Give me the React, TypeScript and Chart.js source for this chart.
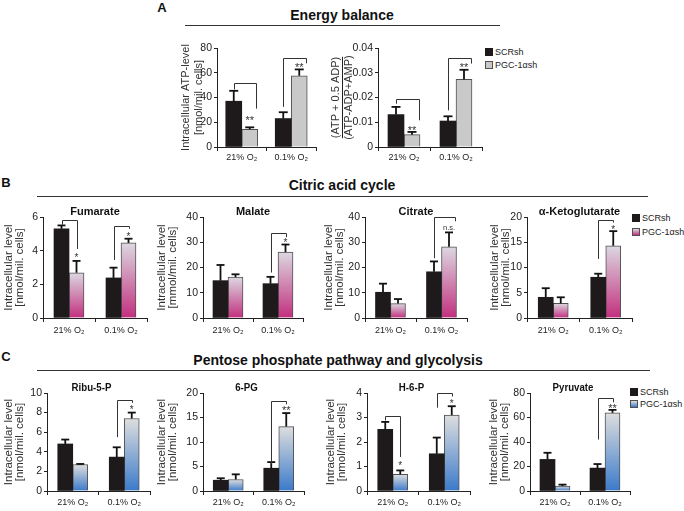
import React, { useEffect, useRef } from 'react';
import { Chart, registerables } from 'chart.js';

Chart.register(...registerables);

const FONT = "'Liberation Sans', Arial, Helvetica, sans-serif";
Chart.defaults.font.family = FONT;
Chart.defaults.color = '#222';

// ---------------- data ----------------
const categories = ['21% O\u2082', '0.1% O\u2082'];
const seriesNames = ['SCRsh', 'PGC-1\u03b1sh'];

// A: Energy balance
const atpSCR = [37, 23];
const atpSCRErr = [8.4, 5.1];
const atpPGC = [14.3, 57.6];
const atpPGCErr = [1.6, 5.1];
// [group, bracket top, left leg end, right leg end, mark position, mark]
const atpBrackets = [[0, 51.4, 46.5, 31, 24, '**'], [1, 72.2, 32.4, 67.6, 66.8, '**']];

const ratioSCR = [0.0131, 0.0105];
const ratioSCRErr = [0.0031, 0.0019];
const ratioPGC = [0.005, 0.0273];
const ratioPGCErr = [0.0011, 0.0039];
const ratioBrackets = [[0, 0.0195, 0.0175, 0.0108, 0.0077, '**'], [1, 0.036, 0.0148, 0.0337, 0.0334, '**']];

// B: Citric acid cycle
const fumSCR = [5.3, 2.38];
const fumSCRErr = [0.2, 0.61];
const fumPGC = [2.69, 4.46];
const fumPGCErr = [0.7, 0.25];
const fumBrackets = [[0, 5.8, 5.55, 4.1, 3.7, '*'], [1, 5.45, 3.45, 5.3, 4.98, '*']];

const malSCR = [14.8, 13.6];
const malSCRErr = [6.2, 2.7];
const malPGC = [16.2, 26.1];
const malPGCErr = [1.1, 3.0];
const malBrackets = [[1, 33.6, 18, 32, 30.8, '*']];

const citSCR = [10.2, 18.3];
const citSCRErr = [3.4, 4.1];
const citPGC = [5.7, 28.2];
const citPGCErr = [1.8, 5.7];
const citBrackets = [[1, 40, 23.7, 38.3, 35.8, 'n.s.']];

const akgSCR = [4.1, 8.07];
const akgSCRErr = [1.8, 0.7];
const akgPGC = [2.9, 14.3];
const akgPGCErr = [1.2, 2.9];
const akgBrackets = [[1, 19.5, 11.7, 18.9, 18.0, '*']];

// C: Pentose phosphate pathway and glycolysis
const ribSCR = [4.8, 3.46];
const ribSCRErr = [0.45, 1.0];
const ribPGC = [2.7, 7.4];
const ribPGCErr = [0.06, 0.6];
const ribBrackets = [[1, 9.3, 5.5, 9.0, 8.5, '*']];

const pgSCR = [2.2, 4.65];
const pgSCRErr = [0.4, 1.25];
const pgPGC = [2.35, 13.15];
const pgPGCErr = [1.05, 2.75];
const pgBrackets = [[1, 18.35, 5.5, 17.7, 17.0, '**']];

const h6pSCR = [2.52, 1.52];
const h6pSCRErr = [0.3, 0.66];
const h6pPGC = [0.68, 3.1];
const h6pPGCErr = [0.16, 0.36];
const h6pBrackets = [[0, 3.05, 2.88, 1.39, 1.12, '*'], [1, 4.0, 3.4, 3.86, 3.65, '*']];

const pyrSCR = [25.8, 18.7];
const pyrSCRErr = [5.4, 3.3];
const pyrPGC = [4.1, 63.8];
const pyrPGCErr = [1.1, 2.4];
const pyrBrackets = [[1, 75.7, 42, 72.4, 69.5, '**']];

// ---------------- styling / layout ----------------
const SCR_COLOR = '#1e1a1b';
const PAD_TOP = 22;
const PAD_RIGHT = 4;
const X_H = 20;
const yTitleBC = ['Intracellular level', '[nmol/mil. cells]'];

const FILLS: any = {
  gray: null,
  pink: ['#dcd8e1', '#c22f7e'],
  blue: ['#dedede', '#3a7aca'],
};

const specs: any[] = [
  { area: [217, 48, 316, 147], yMax: 80, yStep: 20, yTitle: ['Intracellular ATP-level', '[nmol/mil. cells]'], titleX: 185, lh: 13, ts: 11,
    scr: atpSCR, scrErr: atpSCRErr, pgc: atpPGC, pgcErr: atpPGCErr, brackets: atpBrackets, fill: 'gray', barW: 16, cap: 9, edge: true, xPad: 1, starSize: 11 },
  { area: [378, 48, 482, 147], yMax: 0.04, yStep: 0.01, yTitle: ['(ATP + 0.5 ADP)', '(ATP-ADP+AMP)'], titleX: 335, lh: 13, ts: 11, fraction: true,
    scr: ratioSCR, scrErr: ratioSCRErr, pgc: ratioPGC, pgcErr: ratioPGCErr, brackets: ratioBrackets, fill: 'gray', barW: 16, cap: 9, edge: true, xPad: 1, starSize: 11 },

  { title: 'Fumarate', area: [43, 217, 147, 318], yMax: 6, yStep: 2, yTitle: yTitleBC, titleX: 8.5, lh: 11, ts: 11.5,
    scr: fumSCR, scrErr: fumSCRErr, pgc: fumPGC, pgcErr: fumPGCErr, brackets: fumBrackets, fill: 'pink', barW: 15, cap: 8, xPad: 3, starSize: 10 },
  { title: 'Malate', area: [203, 217, 303, 318], yMax: 40, yStep: 10, yTitle: ['Intracellular level', '[mmol/mil. cells]'], titleX: 161, lh: 11, ts: 11.5,
    scr: malSCR, scrErr: malSCRErr, pgc: malPGC, pgcErr: malPGCErr, brackets: malBrackets, fill: 'pink', barW: 15, cap: 8, xPad: 3, starSize: 10 },
  { title: 'Citrate', area: [365, 217, 467, 318], yMax: 40, yStep: 10, yTitle: yTitleBC, titleX: 328, lh: 11, ts: 11.5,
    scr: citSCR, scrErr: citSCRErr, pgc: citPGC, pgcErr: citPGCErr, brackets: citBrackets, fill: 'pink', barW: 15, cap: 8, edge: true, xPad: 3, starSize: 10 },
  { title: '\u03b1-Ketoglutarate', area: [527, 217, 632, 318], yMax: 20, yStep: 5, yTitle: yTitleBC, titleX: 494, lh: 11, ts: 11.5,
    scr: akgSCR, scrErr: akgSCRErr, pgc: akgPGC, pgcErr: akgPGCErr, brackets: akgBrackets, fill: 'pink', barW: 15, cap: 8, xPad: 3, starSize: 10 },

  { title: 'Ribu-5-P', area: [47, 393, 150, 491], yMax: 10, yStep: 2, yTitle: yTitleBC, titleX: 8.5, lh: 11, ts: 11.5, titleDx: -7, titleSx: 0.88,
    scr: ribSCR, scrErr: ribSCRErr, pgc: ribPGC, pgcErr: ribPGCErr, brackets: ribBrackets, fill: 'blue', barW: 15, cap: 8, xPad: 2, starSize: 10 },
  { title: '6-PG', area: [203, 393, 304, 491], yMax: 20, yStep: 5, yTitle: yTitleBC, titleX: 161.5, lh: 11, ts: 11.5, titleDx: -7, titleSx: 0.88,
    scr: pgSCR, scrErr: pgSCRErr, pgc: pgPGC, pgcErr: pgPGCErr, brackets: pgBrackets, fill: 'blue', barW: 15, cap: 8, xPad: 2, starSize: 11 },
  { title: 'H-6-P', area: [367, 393, 470, 491], yMax: 4, yStep: 1, yTitle: yTitleBC, titleX: 330, lh: 11, ts: 11.5, titleDx: -7, titleSx: 0.88,
    scr: h6pSCR, scrErr: h6pSCRErr, pgc: h6pPGC, pgcErr: h6pPGCErr, brackets: h6pBrackets, fill: 'blue', barW: 15, cap: 8, xPad: 2, starSize: 10 },
  { title: 'Pyruvate', area: [530, 393, 630, 491], yMax: 80, yStep: 20, yTitle: yTitleBC, titleX: 493, lh: 11, ts: 11.5, titleDx: -7, titleSx: 0.88,
    scr: pyrSCR, scrErr: pyrSCRErr, pgc: pyrPGC, pgcErr: pyrPGCErr, brackets: pyrBrackets, fill: 'blue', barW: 15, cap: 8, xPad: 2, starSize: 11 },
];

function gradientFill(stops: string[]) {
  return (c: any) => {
    const chart = c.chart;
    const y = chart.scales && chart.scales.y;
    if (!y || !c.parsed || !chart.chartArea) return stops[1];
    const top = y.getPixelForValue(c.parsed.y);
    const base = y.getPixelForValue(0);
    if (!isFinite(top) || !isFinite(base) || top === base) return stops[1];
    const g = chart.ctx.createLinearGradient(0, top, 0, base);
    g.addColorStop(0, stops[0]);
    g.addColorStop(1, stops[1]);
    return g;
  };
}

const decorPlugin = {
  id: 'decor',
  afterDatasetsDraw(chart: any, _args: any, o: any) {
    const { ctx, chartArea } = chart;
    const y = chart.scales.y;
    const m0 = chart.getDatasetMeta(0);
    const m1 = chart.getDatasetMeta(1);
    ctx.save();
    // error bars
    chart.data.datasets.forEach((ds: any, di: number) => {
      const meta = chart.getDatasetMeta(di);
      meta.data.forEach((bar: any, i: number) => {
        const v = ds.data[i];
        const e = ds.errors[i];
        const x = bar.x;
        const y0 = y.getPixelForValue(v);
        const y1 = y.getPixelForValue(v + e);
        ctx.strokeStyle = '#111';
        ctx.lineWidth = 1.8;
        ctx.lineCap = 'butt';
        ctx.beginPath();
        ctx.moveTo(x, y0);
        ctx.lineTo(x, y1);
        ctx.stroke();
        ctx.beginPath();
        ctx.moveTo(x - o.cap / 2, y1);
        ctx.lineTo(x + o.cap / 2, y1);
        ctx.stroke();
      });
    });
    // significance brackets
    ctx.lineWidth = 1;
    ctx.strokeStyle = '#333';
    (o.brackets || []).forEach((bk: any[]) => {
      const [g, top, le, re, ly, label] = bk;
      const b0 = m0.data[g];
      const b1 = m1.data[g];
      const xl = Math.round(b0.x) + 0.5;
      const xr = Math.round(o.edge ? b1.x + b1.width / 2 - 1.5 : b1.x) + 0.5;
      const yt = Math.round(y.getPixelForValue(top)) + 0.5;
      ctx.beginPath();
      ctx.moveTo(xl, y.getPixelForValue(le));
      ctx.lineTo(xl, yt);
      ctx.lineTo(xr, yt);
      ctx.lineTo(xr, y.getPixelForValue(re));
      ctx.stroke();
      const star = String(label).indexOf('*') >= 0;
      const fs = star ? o.starSize : 7.5;
      ctx.fillStyle = '#333';
      ctx.font = `${fs}px ${FONT}`;
      ctx.textAlign = 'center';
      ctx.textBaseline = 'alphabetic';
      ctx.fillText(label, b1.x, y.getPixelForValue(ly) + (star ? 0.57 : 0.26) * fs);
    });
    // chart title
    if (o.title) {
      ctx.fillStyle = '#111';
      ctx.font = `bold 11px ${FONT}`;
      ctx.textAlign = 'center';
      ctx.textBaseline = 'middle';
      ctx.translate((chartArea.left + chartArea.right) / 2 + (o.titleDx || 0), chartArea.top - 5);
      ctx.scale(o.titleSx || 1, 1);
      ctx.fillText(o.title, 0, 0);
      ctx.setTransform(1, 0, 0, 1, 0, 0);
    }
    // fraction line in the y title
    if (o.fraction) {
      ctx.font = `${o.ts}px ${FONT}`;
      const w = ctx.measureText(o.yTitle[0]).width;
      const x = Math.round(y.left + o.lh / 2 + 0.55 * o.ts) + 0.5;
      const cy = (chartArea.top + chartArea.bottom) / 2;
      ctx.strokeStyle = '#222';
      ctx.lineWidth = 1;
      ctx.beginPath();
      ctx.moveTo(x, cy - w / 2);
      ctx.lineTo(x, cy + w / 2);
      ctx.stroke();
    }
    ctx.restore();
  },
};

function buildConfig(s: any, yW: number) {
  const pgcFill = s.fill === 'gray' ? '#c9c9c9' : gradientFill(FILLS[s.fill]);
  return {
    type: 'bar',
    data: {
      labels: categories,
      datasets: [
        { label: seriesNames[0], data: s.scr, errors: s.scrErr, backgroundColor: SCR_COLOR, borderWidth: 0, barThickness: s.barW },
        { label: seriesNames[1], data: s.pgc, errors: s.pgcErr, backgroundColor: pgcFill, borderColor: '#505050', borderWidth: 1, borderSkipped: 'bottom', barThickness: s.barW },
      ],
    },
    options: {
      responsive: false,
      animation: false,
      devicePixelRatio: 1,
      events: [],
      layout: { padding: { top: PAD_TOP, right: PAD_RIGHT, left: 0, bottom: 0 } },
      plugins: {
        legend: { display: false },
        tooltip: { enabled: false },
        title: { display: false },
        decor: {
          brackets: s.brackets, cap: s.cap, edge: !!s.edge, starSize: s.starSize,
          title: s.title, titleDx: s.titleDx, titleSx: s.titleSx,
          fraction: !!s.fraction, yTitle: s.yTitle, ts: s.ts, lh: s.lh,
        },
      },
      scales: {
        x: {
          type: 'category',
          offset: true,
          grid: { display: true, drawOnChartArea: false, drawTicks: true, tickLength: 4, color: '#222', lineWidth: 1, offset: true },
          border: { display: true, color: '#222', width: 1 },
          ticks: { color: '#222', font: { size: 9 }, padding: s.xPad, maxRotation: 0, autoSkip: false },
          afterFit: (scale: any) => { scale.height = X_H; },
        },
        y: {
          min: 0,
          max: s.yMax,
          grid: { display: true, drawOnChartArea: false, drawTicks: true, tickLength: 3, color: '#222', lineWidth: 1 },
          border: { display: true, color: '#222', width: 1 },
          ticks: { stepSize: s.yStep, color: '#222', font: { size: 10.5 }, padding: 2 },
          title: { display: true, text: s.yTitle, color: '#333', font: { size: s.ts, lineHeight: s.lh / s.ts }, padding: { top: 0, bottom: 0 } },
          afterFit: (scale: any) => { scale.width = yW; },
        },
      },
    },
    plugins: [decorPlugin],
  };
}

function BarChart({ s }: { s: any }) {
  const ref = useRef<HTMLCanvasElement>(null);
  const [l, t, r, b] = s.area;
  const cx = Math.round(s.titleX - s.lh / 2);
  const cy = t - PAD_TOP;
  const w = Math.round(r + PAD_RIGHT - cx);
  const h = Math.round(b + X_H - cy);
  useEffect(() => {
    const chart = new Chart(ref.current as HTMLCanvasElement, buildConfig(s, l - cx) as any);
    return () => chart.destroy();
  }, []);
  return (
    <canvas
      ref={ref}
      width={w}
      height={h}
      style={{ position: 'absolute', left: cx, top: cy, width: w, height: h, display: 'block' }}
    />
  );
}

function Header({ text, cx, cy, size }: any) {
  return (
    <div style={{ position: 'absolute', left: cx - 300, width: 600, top: cy - size * 0.6, textAlign: 'center', fontWeight: 'bold',
      fontSize: size, lineHeight: `${size * 1.2}px`, fontFamily: FONT, color: '#111', whiteSpace: 'nowrap' }}>{text}</div>
  );
}

function Rule({ x1, x2, y }: any) {
  return <div style={{ position: 'absolute', left: x1, top: y, width: x2 - x1, height: 1, background: '#333' }} />;
}

function Letter({ text, x, y }: any) {
  return (
    <div style={{ position: 'absolute', left: x - 10, width: 20, top: y - 8, textAlign: 'center', fontWeight: 'bold', fontSize: 13,
      lineHeight: '16px', fontFamily: FONT, color: '#111' }}>{text}</div>
  );
}

function Legend({ x, y, gap, fill }: any) {
  const second = fill === 'gray' ? '#c9c9c9' : `linear-gradient(to bottom, ${FILLS[fill][0]}, ${FILLS[fill][1]})`;
  const items = [
    { name: seriesNames[0], bg: SCR_COLOR, border: 'none' },
    { name: seriesNames[1], bg: second, border: '1px solid #505050' },
  ];
  return (
    <>
      {items.map((it, i) => (
        <React.Fragment key={i}>
          <div style={{ position: 'absolute', left: x, top: y + i * gap, width: 8, height: 8, background: it.bg, border: it.border, boxSizing: 'border-box' }} />
          <div style={{ position: 'absolute', left: x + 10, top: y + i * gap + 4 - 6, height: 12, lineHeight: '12px', fontSize: 9,
            fontFamily: FONT, color: '#222', whiteSpace: 'nowrap', zIndex: 2 }}>{it.name}</div>
        </React.Fragment>
      ))}
    </>
  );
}

export default function App() {
  return (
    <div style={{ position: 'fixed', left: 0, top: 0, width: 684, height: 511, background: '#fff', overflow: 'hidden' }}>
      <Letter text="A" x={162} y={8} />
      <Header text="Energy balance" cx={342} cy={15} size={14} />
      <Rule x1={185} x2={500} y={25} />
      <Legend x={485} y={48} gap={13} fill="gray" />

      <Letter text="B" x={6} y={183} />
      <Header text="Citric acid cycle" cx={342} cy={185} size={14} />
      <Rule x1={37} x2={648} y={196} />
      <Legend x={632} y={214} gap={14} fill="pink" />

      <Letter text="C" x={6} y={357} />
      <Header text="Pentose phosphate pathway and glycolysis" cx={338} cy={360} size={14} />
      <Rule x1={37} x2={650} y={370} />
      <Legend x={630} y={388} gap={12} fill="blue" />

      {specs.map((s, i) => (
        <BarChart key={i} s={s} />
      ))}
    </div>
  );
}
